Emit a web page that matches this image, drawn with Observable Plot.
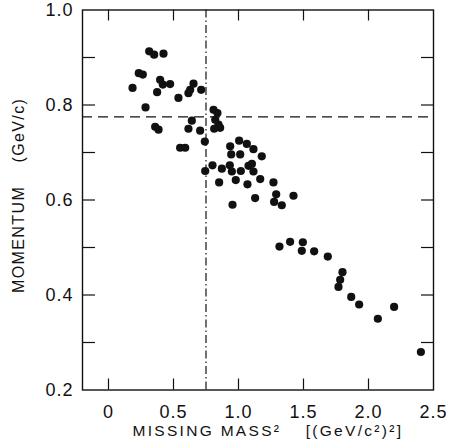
<!DOCTYPE html>
<html><head><meta charset="utf-8">
<script src="https://cdn.jsdelivr.net/npm/d3@7"></script>
<script src="https://cdn.jsdelivr.net/npm/@observablehq/plot@0.6"></script>
<style>
body{margin:0;background:#fff}
g[aria-label="x-axis tick label"] text, g[aria-label="y-axis tick label"] text{letter-spacing:1px}
g.xtitle text{letter-spacing:2.3px}
g.ytitle text{letter-spacing:1.4px}
</style>
</head><body><div id="chart"></div>
<script>
const missingMass2 = [0.185,0.233,0.264,0.313,0.351,0.423,0.285,0.359,0.385,0.374,0.397,0.418,0.474,0.538,0.551,0.590,0.615,0.628,0.654,0.713,0.641,0.615,0.705,0.741,0.744,0.800,0.808,0.838,0.821,0.846,0.813,0.859,0.851,0.872,0.933,0.936,0.944,0.954,0.949,0.979,1.005,1.013,1.018,1.064,1.069,1.077,1.103,1.115,1.115,1.128,1.179,1.167,1.269,1.290,1.274,1.333,1.423,1.315,1.397,1.495,1.487,1.582,1.687,1.800,1.782,1.769,1.867,1.928,2.072,2.197,2.403];
const momentum = [0.836,0.867,0.864,0.913,0.906,0.908,0.795,0.754,0.748,0.827,0.853,0.843,0.844,0.815,0.710,0.710,0.825,0.832,0.845,0.832,0.767,0.750,0.746,0.723,0.661,0.673,0.790,0.783,0.769,0.759,0.750,0.752,0.637,0.666,0.673,0.713,0.696,0.590,0.660,0.642,0.725,0.696,0.661,0.718,0.633,0.672,0.676,0.707,0.660,0.604,0.692,0.644,0.637,0.612,0.596,0.589,0.609,0.502,0.512,0.511,0.493,0.492,0.481,0.448,0.432,0.417,0.396,0.380,0.350,0.375,0.280];
const xTickValues = [0, 0.5, 1.0, 1.5, 2.0];
const xLabelValues = [0, 0.5, 1.0, 1.5, 2.0, 2.5];
const xLabelTexts = ["0", "0.5", "1.0", "1.5", "2.0", "2.5"];
const yTickValues = [0.3, 0.4, 0.5, 0.6, 0.7, 0.8, 0.9];
const yLabelValues = [0.2, 0.4, 0.6, 0.8, 1.0];
const yLabelTexts = ["0.2", "0.4", "0.6", "0.8", "1.0"];
const rhoMomentum = [0.775];
const cutMass2 = [0.75];
const xTitle = "MISSING MASS\u00B2\u2003 [(GeV/c\u00B2)\u00B2]";
const yTitle = "MOMENTUM\u2003 (GeV/c)";

const W = 451, H = 448, mL = 82, mR = 18, mT = 9.5, mB = 58.5;
const frameW = W - mL - mR, frameH = H - mT - mB;
const data = missingMass2.map((x, i) => ({x, y: momentum[i]}));
const ink = "#111";
const tk = {stroke: ink, strokeWidth: 1.2};
const plot = Plot.plot({
  width: W, height: H,
  marginLeft: mL, marginRight: mR, marginTop: mT, marginBottom: mB,
  x: {domain: [-0.2, 2.5], axis: null},
  y: {domain: [0.2, 1.0], axis: null},
  style: {fontFamily: "Liberation Sans, Arial, sans-serif", color: ink, background: "#fff"},
  marks: [
    Plot.tickX(xTickValues, {...tk, x: d => d, insetTop: frameH - 11}),
    Plot.tickX(xTickValues, {...tk, x: d => d, insetBottom: frameH - 11}),
    Plot.tickY(yTickValues, {...tk, y: d => d, insetRight: frameW - 13}),
    Plot.tickY(yTickValues, {...tk, y: d => d, insetLeft: frameW - 12}),
    Plot.axisX(xLabelValues, {anchor: "bottom", tickSize: 0, tickPadding: 15, tickFormat: (d, i) => xLabelTexts[i], fontSize: 18, label: null, fill: ink}),
    Plot.axisY(yLabelValues, {anchor: "left", tickSize: 0, tickPadding: 9, tickFormat: (d, i) => yLabelTexts[i], fontSize: 18, label: null, fill: ink}),
    Plot.frame({stroke: ink, strokeWidth: 1.4}),
    Plot.ruleY(rhoMomentum, {stroke: ink, strokeWidth: 1.4, strokeDasharray: "10,6"}),
    Plot.ruleX(cutMass2, {stroke: ink, strokeWidth: 1.2, strokeDasharray: "8,3,1.5,3"}),
    Plot.dot(data, {x: "x", y: "y", r: 4.1, fill: ink, stroke: "none"}),
    Plot.text([xTitle], {className: "xtitle", frameAnchor: "bottom-left", textAnchor: "start", dx: 50, dy: 46, fontSize: 15.5, fill: ink, text: d => d}),
    Plot.text([yTitle], {className: "ytitle", frameAnchor: "bottom-left", textAnchor: "start", dx: -58.5, dy: -97, rotate: -90, fontSize: 16, fill: ink, text: d => d})
  ]
});
document.getElementById("chart").appendChild(plot);
</script>
</body></html>
